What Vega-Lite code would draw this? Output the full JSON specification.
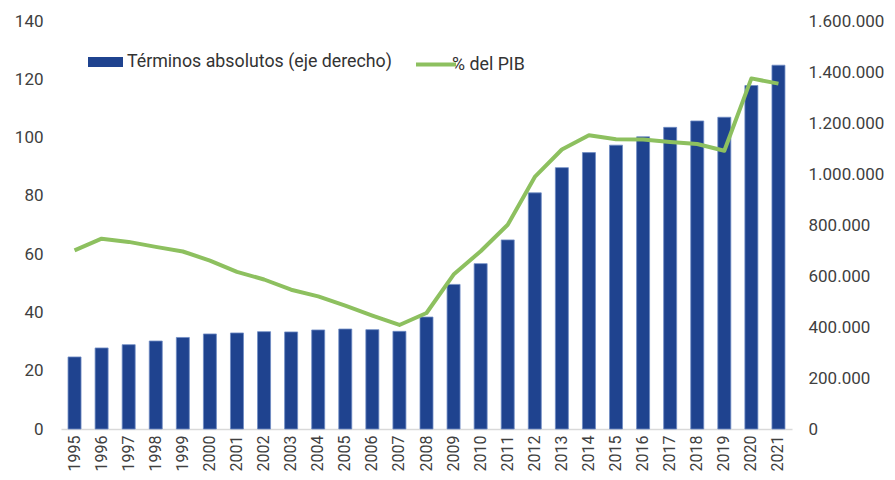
{
  "$schema": "https://vega.github.io/schema/vega-lite/v6.json",
  "autosize": "none",
  "width": 731,
  "height": 408,
  "padding": {"left": 61, "top": 21, "right": 103, "bottom": 51},
  "background": "white",
  "config": {
    "view": {"stroke": null},
    "font": "Roboto",
    "axis": {"labelFont": "Roboto", "labelFontSize": 17, "labelColor": "#404040", "grid": false, "ticks": false, "domain": false},
    "legend": {"labelFont": "Roboto", "labelFontSize": 17.8, "labelColor": "#333333", "padding": 0, "labelLimit": 500}
  },
  "data": {
    "values": [
      {"year": "1995", "abs": 282500, "pib": 61.3},
      {"year": "1996", "abs": 317800, "pib": 65.3},
      {"year": "1997", "abs": 330700, "pib": 64.2},
      {"year": "1998", "abs": 345000, "pib": 62.5},
      {"year": "1999", "abs": 359000, "pib": 60.9},
      {"year": "2000", "abs": 372700, "pib": 57.8},
      {"year": "2001", "abs": 376600, "pib": 53.9},
      {"year": "2002", "abs": 381700, "pib": 51.3},
      {"year": "2003", "abs": 380600, "pib": 47.8},
      {"year": "2004", "abs": 388400, "pib": 45.5},
      {"year": "2005", "abs": 392000, "pib": 42.3},
      {"year": "2006", "abs": 389600, "pib": 38.9},
      {"year": "2007", "abs": 383000, "pib": 35.7},
      {"year": "2008", "abs": 439000, "pib": 39.8},
      {"year": "2009", "abs": 567000, "pib": 53.0},
      {"year": "2010", "abs": 648500, "pib": 61.0},
      {"year": "2011", "abs": 741500, "pib": 70.1},
      {"year": "2012", "abs": 926000, "pib": 86.5},
      {"year": "2013", "abs": 1025000, "pib": 95.9},
      {"year": "2014", "abs": 1084000, "pib": 100.8},
      {"year": "2015", "abs": 1113000, "pib": 99.4},
      {"year": "2016", "abs": 1145600, "pib": 99.3},
      {"year": "2017", "abs": 1183000, "pib": 98.5},
      {"year": "2018", "abs": 1208000, "pib": 97.8},
      {"year": "2019", "abs": 1222600, "pib": 95.5},
      {"year": "2020", "abs": 1347000, "pib": 120.3},
      {"year": "2021", "abs": 1426600, "pib": 118.5}
    ]
  },
  "encoding": {
    "x": {
      "field": "year", "type": "nominal", "title": null,
      "scale": {"paddingInner": 0.52, "paddingOuter": 0.26},
      "axis": {"labelAngle": -90, "labelPadding": 6, "domain": true, "domainColor": "#d9d9d9", "domainWidth": 1.5, "labelFontSize": 16}
    }
  },
  "layer": [
    {
      "mark": {"type": "bar", "stroke": "#6f8cc4", "strokeWidth": 0.8},
      "encoding": {
        "y": {
          "field": "abs", "type": "quantitative", "title": null,
          "scale": {"domain": [0, 1600000], "nice": false},
          "axis": {"orient": "right", "values": [0, 200000, 400000, 600000, 800000, 1000000, 1200000, 1400000, 1600000], "labelExpr": "replace(format(datum.value, ',d'), /,/g, '.')", "labelPadding": 16}
        },
        "fill": {
          "datum": "Términos absolutos (eje derecho)",
          "scale": {"range": ["#1f438f"]},
          "legend": {"title": null, "orient": "none", "legendX": 27, "legendY": 23.5, "symbolType": "M-1,-0.286H1V0.286H-1Z", "symbolSize": 1225, "symbolStrokeWidth": 0, "labelOffset": 4}
        }
      }
    },
    {
      "mark": {"type": "line", "strokeWidth": 4, "strokeJoin": "round"},
      "encoding": {
        "y": {
          "field": "pib", "type": "quantitative", "title": null,
          "scale": {"domain": [0, 140], "nice": false},
          "axis": {"orient": "left", "values": [0, 20, 40, 60, 80, 100, 120, 140], "labelPadding": 18}
        },
        "stroke": {
          "datum": "% del PIB",
          "scale": {"range": ["#8dc05f"]},
          "legend": {"title": null, "orient": "none", "legendX": 353, "legendY": 21.5, "symbolType": "stroke", "symbolSize": 1600, "symbolStrokeWidth": 4, "labelOffset": -6}
        }
      }
    }
  ],
  "resolve": {"scale": {"y": "independent"}}
}
